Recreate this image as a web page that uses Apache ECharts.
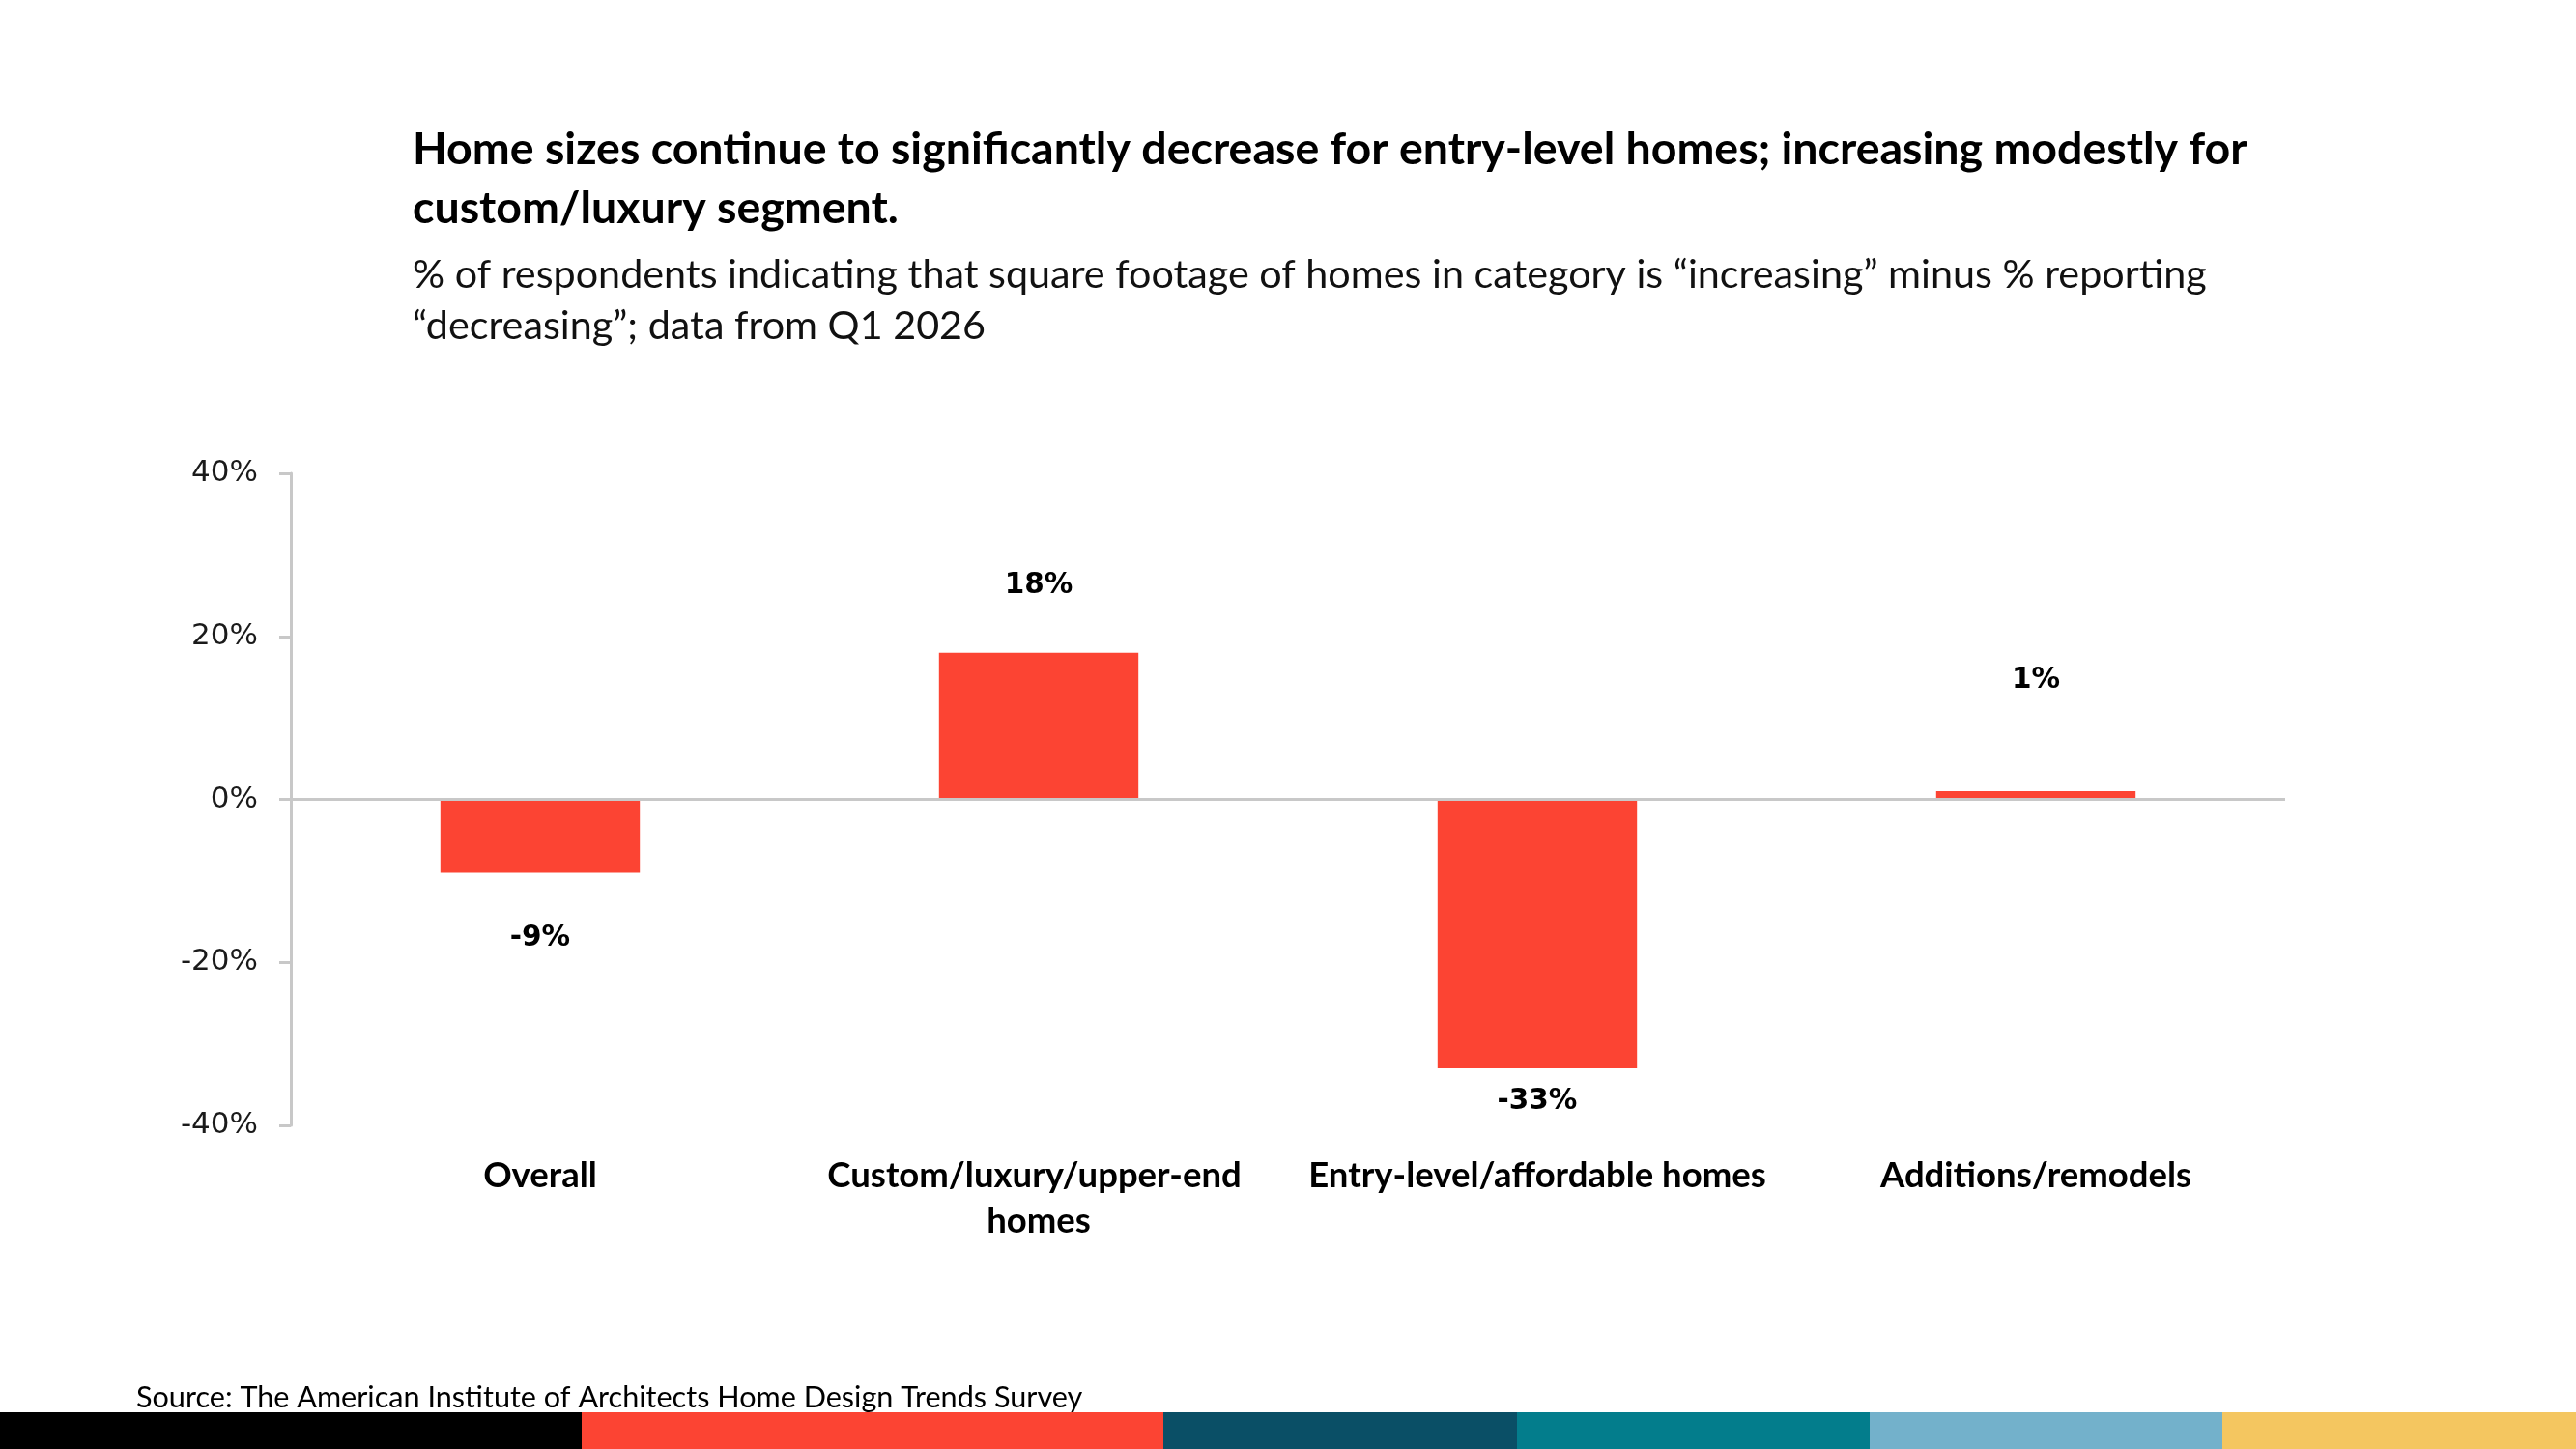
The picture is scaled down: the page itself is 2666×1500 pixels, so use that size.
<!DOCTYPE html>
<html>
<head>
<meta charset="utf-8">
<script src="https://cdn.jsdelivr.net/npm/echarts@6/dist/echarts.min.js"></script>
<style>
  html, body { margin: 0; padding: 0; background: #fff; }
  #chart-container { width: 2666px; height: 1500px; }
</style>
</head>
<body>
<div id="chart-container"></div>
<script>
// data
const categories = ['Overall', 'Custom/luxury/upper-end homes', 'Entry-level/affordable homes', 'Additions/remodels'];
const netShare = [-9, 18, -33, 1];
const yTicks = [-40, -20, 0, 20, 40];

const titleText = 'Home sizes continue to significantly decrease for entry-level homes; increasing modestly for\ncustom/luxury segment.';
const subText = '% of respondents indicating that square footage of homes in category is \u201cincreasing\u201d minus % reporting\n\u201cdecreasing\u201d; data from Q1 2026';
const sourceText = 'Source: The American Institute of Architects Home Design Trends Survey';

// label gaps (px) to mimic the hand-placed labels
const labelGap = [53, 54, 19, 100];

const stripeColors = ['#000000', '#fc4433', '#0a4f66', '#037d8c', '#73b1cb', '#f4c660'];
const stripeStops = [0, 602, 1204, 1570, 1935, 2300, 2666];

var chartDom = document.getElementById('chart-container');
var myChart = echarts.init(chartDom);
var option;

const calibriLike = 'Lato, "Open Sans", sans-serif';
const verdanaLike = '"DejaVu Sans", Verdana, sans-serif';

option = {
    backgroundColor: '#ffffff',
    animation: false,
    title: [
        {
            text: titleText,
            left: 422,
            top: 119,
            textStyle: {
                fontFamily: calibriLike,
                fontWeight: 'bold',
                fontSize: 46.5,
                lineHeight: 61,
                color: '#000'
            }
        },
        {
            text: subText,
            left: 422,
            top: 253,
            textStyle: {
                fontFamily: calibriLike,
                fontWeight: 'normal',
                fontSize: 41.3,
                lineHeight: 53,
                color: '#111'
            }
        }
    ],
    grid: {
        left: 301,
        right: 301,
        top: 490,
        bottom: 335,
        containLabel: false
    },
    xAxis: {
        type: 'category',
        data: categories,
        axisLine: { show: false, onZero: false },
        axisTick: { show: false },
        axisLabel: {
            interval: 0,
            margin: 29,
            width: 505,
            overflow: 'break',
            fontFamily: calibriLike,
            fontWeight: 'bold',
            fontSize: 36.5,
            lineHeight: 47,
            color: '#000'
        }
    },
    yAxis: {
        type: 'value',
        min: yTicks[0],
        max: yTicks[yTicks.length - 1],
        interval: 20,
        axisLine: { show: true, lineStyle: { color: '#c8c8c8', width: 3 } },
        axisTick: { show: true, length: 12, lineStyle: { color: '#c8c8c8', width: 3 } },
        splitLine: { show: false },
        axisLabel: {
            margin: 34,
            fontFamily: verdanaLike,
            fontSize: 31,
            color: '#1a1a1a',
            formatter: '{value}%'
        }
    },
    series: [
        {
            type: 'bar',
            barWidth: '40%',
            itemStyle: { color: '#fc4433' },
            data: netShare.map((v, i) => ({
                value: v,
                label: {
                    show: true,
                    position: v >= 0 ? 'top' : 'bottom',
                    distance: labelGap[i],
                    formatter: '{c}%',
                    fontFamily: verdanaLike,
                    fontWeight: 'bold',
                    fontSize: 29.5,
                    color: '#000'
                }
            })),
            markLine: {
                silent: true,
                symbol: 'none',
                label: { show: false },
                lineStyle: { color: '#c8c8c8', width: 3, type: 'solid' },
                data: [{ yAxis: 0 }]
            }
        }
    ],
    graphic: [
        {
            type: 'text',
            left: 141,
            top: 1432,
            style: {
                text: sourceText,
                fontFamily: calibriLike,
                fontSize: 30.6,
                fill: '#000'
            }
        }
    ].concat(stripeColors.map((c, i) => ({
        type: 'rect',
        shape: { x: stripeStops[i], y: 1462, width: stripeStops[i + 1] - stripeStops[i], height: 38 },
        style: { fill: c }
    })))
};

option && myChart.setOption(option);
</script>
</body>
</html>
